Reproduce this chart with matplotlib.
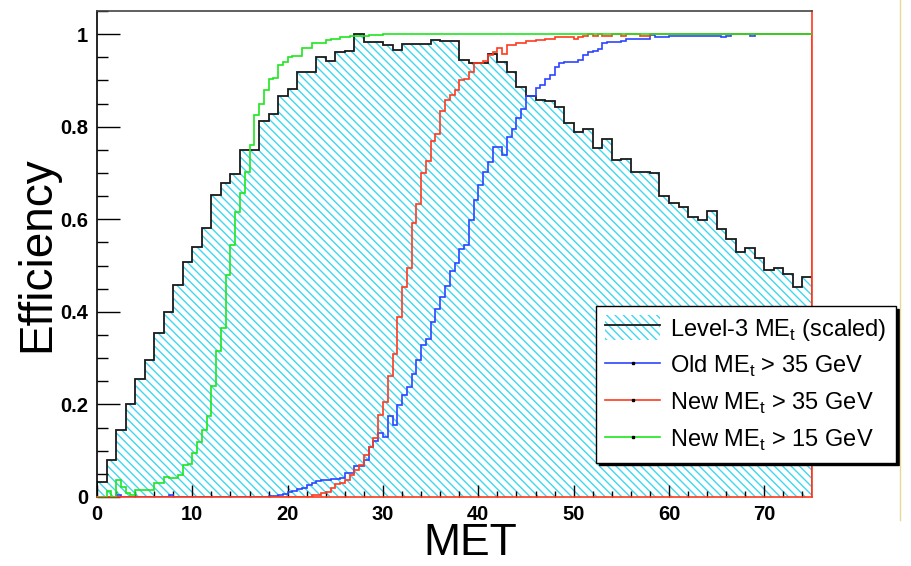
"""
Trigger efficiency versus MET, drawn on top of the scaled Level-3 MEt spectrum.

Rebuilds a ROOT style canvas with matplotlib and writes it to out.png.
"""

import matplotlib

matplotlib.use("Agg")
import matplotlib.pyplot as plt
import numpy as np
from matplotlib.lines import Line2D
from matplotlib.patches import Patch
from matplotlib.ticker import FormatStrFormatter, MultipleLocator

X_MIN, X_MAX = 0.0, 75.0
Y_MAX = 1.05

# Level-3 MEt spectrum, scaled to a peak of 1 (1 GeV bins, 0-75)
LEVEL3_SCALED = [
    0.033, 0.081, 0.145, 0.202, 0.256, 0.296, 0.354, 0.399, 0.458, 0.507,
    0.541, 0.582, 0.652, 0.678, 0.698, 0.749, 0.749, 0.813, 0.827, 0.866,
    0.881, 0.919, 0.919, 0.950, 0.942, 0.962, 0.964, 1.000, 0.983, 0.983,
    0.976, 0.965, 0.978, 0.978, 0.978, 0.988, 0.986, 0.986, 0.945, 0.938,
    0.937, 0.958, 0.940, 0.919, 0.886, 0.866, 0.857, 0.856, 0.843, 0.808,
    0.789, 0.796, 0.753, 0.774, 0.728, 0.731, 0.703, 0.703, 0.699, 0.650,
    0.636, 0.627, 0.604, 0.598, 0.618, 0.579, 0.557, 0.530, 0.537, 0.517,
    0.490, 0.495, 0.481, 0.453, 0.476,
]

# Efficiencies (0.5 GeV bins, 0-75)
OLD_MET35 = [
    0.000, 0.000, 0.000, 0.000, 0.004, 0.000, 0.000, 0.000, 0.000, 0.000,
    0.000, 0.000, 0.000, 0.000, 0.000, 0.004, 0.000, 0.000, 0.000, 0.000,
    0.000, 0.000, 0.000, 0.000, 0.000, 0.000, 0.000, 0.000, 0.000, 0.000,
    0.000, 0.000, 0.000, 0.000, 0.000, 0.000, 0.003, 0.003, 0.005, 0.006,
    0.010, 0.012, 0.018, 0.020, 0.025, 0.030, 0.035, 0.037, 0.037, 0.038,
    0.038, 0.040, 0.051, 0.051, 0.068, 0.068, 0.081, 0.109, 0.120, 0.138,
    0.130, 0.174, 0.155, 0.199, 0.220, 0.238, 0.265, 0.295, 0.328, 0.341,
    0.379, 0.406, 0.433, 0.455, 0.489, 0.506, 0.535, 0.545, 0.598, 0.641,
    0.674, 0.703, 0.724, 0.757, 0.757, 0.739, 0.778, 0.796, 0.818, 0.839,
    0.866, 0.866, 0.883, 0.890, 0.904, 0.911, 0.930, 0.937, 0.940, 0.940,
    0.940, 0.944, 0.955, 0.962, 0.964, 0.967, 0.980, 0.983, 0.983, 0.983,
    0.985, 0.989, 0.989, 0.989, 0.989, 0.990, 0.998, 0.993, 0.993, 0.993,
    0.995, 0.995, 0.997, 0.997, 0.997, 0.997, 0.997, 0.997, 0.997, 0.997,
    0.997, 0.994, 0.997, 1.000, 1.000, 1.000, 1.000, 0.997, 1.000, 1.000,
    1.000, 1.000, 1.000, 1.000, 1.000, 1.000, 1.000, 1.000, 1.000, 1.000,
]

NEW_MET35 = [
    0.000, 0.000, 0.000, 0.000, 0.000, 0.000, 0.000, 0.000, 0.000, 0.000,
    0.000, 0.000, 0.000, 0.000, 0.000, 0.000, 0.000, 0.000, 0.000, 0.000,
    0.000, 0.000, 0.000, 0.000, 0.000, 0.000, 0.000, 0.000, 0.000, 0.000,
    0.000, 0.000, 0.000, 0.000, 0.000, 0.000, 0.000, 0.000, 0.000, 0.000,
    0.000, 0.000, 0.000, 0.000, 0.000, 0.004, 0.004, 0.008, 0.011, 0.019,
    0.028, 0.030, 0.037, 0.048, 0.058, 0.069, 0.090, 0.109, 0.127, 0.178,
    0.206, 0.261, 0.309, 0.388, 0.454, 0.494, 0.591, 0.634, 0.699, 0.726,
    0.770, 0.785, 0.834, 0.857, 0.868, 0.879, 0.901, 0.903, 0.919, 0.937,
    0.937, 0.942, 0.955, 0.962, 0.969, 0.958, 0.976, 0.976, 0.981, 0.981,
    0.985, 0.985, 0.987, 0.987, 0.990, 0.990, 0.994, 0.994, 0.994, 0.994,
    0.989, 0.994, 0.997, 1.000, 0.997, 1.000, 0.997, 0.997, 1.000, 1.000,
    0.997, 1.000, 1.000, 1.000, 0.997, 0.997, 1.000, 1.000, 1.000, 1.000,
    1.000, 1.000, 1.000, 1.000, 1.000, 1.000, 1.000, 1.000, 1.000, 1.000,
    1.000, 1.000, 1.000, 1.000, 1.000, 1.000, 1.000, 1.000, 1.000, 1.000,
    1.000, 1.000, 1.000, 1.000, 1.000, 1.000, 1.000, 1.000, 1.000, 1.000,
]

NEW_MET15 = [
    0.000, 0.000, 0.013, 0.000, 0.037, 0.022, 0.008, 0.005, 0.015, 0.015,
    0.015, 0.015, 0.030, 0.030, 0.044, 0.040, 0.040, 0.048, 0.069, 0.072,
    0.095, 0.118, 0.145, 0.175, 0.240, 0.315, 0.365, 0.479, 0.544, 0.616,
    0.657, 0.703, 0.760, 0.825, 0.850, 0.879, 0.904, 0.906, 0.933, 0.940,
    0.950, 0.952, 0.952, 0.969, 0.969, 0.981, 0.981, 0.981, 0.988, 0.990,
    0.990, 0.993, 0.993, 0.996, 0.996, 0.996, 0.996, 0.998, 0.998, 0.998,
    1.000, 1.000, 1.000, 1.000, 1.000, 1.000, 1.000, 1.000, 1.000, 1.000,
    1.000, 1.000, 1.000, 1.000, 1.000, 1.000, 1.000, 1.000, 1.000, 1.000,
    1.000, 1.000, 1.000, 1.000, 1.000, 1.000, 1.000, 1.000, 1.000, 1.000,
    1.000, 1.000, 1.000, 1.000, 1.000, 1.000, 1.000, 1.000, 1.000, 1.000,
    1.000, 1.000, 1.000, 1.000, 1.000, 1.000, 1.000, 1.000, 1.000, 1.000,
    1.000, 1.000, 1.000, 1.000, 1.000, 1.000, 1.000, 1.000, 1.000, 1.000,
    1.000, 1.000, 1.000, 1.000, 1.000, 1.000, 1.000, 1.000, 1.000, 1.000,
    1.000, 1.000, 1.000, 1.000, 1.000, 1.000, 1.000, 1.000, 1.000, 1.000,
    1.000, 1.000, 1.000, 1.000, 1.000, 1.000, 1.000, 1.000, 1.000, 1.000,
]

LEGEND_LABELS = [
    r"Level-3 ME$_\mathrm{t}$ (scaled)",
    r"Old ME$_\mathrm{t}$ > 35 GeV",
    r"New ME$_\mathrm{t}$ > 35 GeV",
    r"New ME$_\mathrm{t}$ > 15 GeV",
]

# ROOT-ish colours
HATCH_CYAN = "#3cd8f0"
HATCH = "\\\\\\\\"  # four backslashes -> fine diagonal hatching
LINE_BLACK = "#1a1a1a"
BLUE = "#2b44ff"
RED = "#ff3a1e"
GREEN = "#1ee61e"

FONT = "Liberation Sans"


def edges_for(values):
    """Bin edges spanning the x range for a list of bin contents."""
    return np.linspace(X_MIN, X_MAX, len(values) + 1)


def draw_histograms(ax):
    """Hatched spectrum plus the three efficiency step curves."""
    ax.stairs(LEVEL3_SCALED, edges_for(LEVEL3_SCALED), fill=True,
              facecolor="none", edgecolor=HATCH_CYAN, hatch=HATCH,
              linewidth=0, zorder=1)
    ax.stairs(LEVEL3_SCALED, edges_for(LEVEL3_SCALED), baseline=0,
              color=LINE_BLACK, linewidth=1.3, zorder=2)
    ax.stairs(OLD_MET35, edges_for(OLD_MET35), baseline=None,
              color=BLUE, linewidth=1.2, zorder=3)
    ax.stairs(NEW_MET35, edges_for(NEW_MET35), baseline=0,
              color=RED, linewidth=1.2, zorder=4)
    ax.stairs(NEW_MET15, edges_for(NEW_MET15), baseline=None,
              color=GREEN, linewidth=1.2, zorder=5)


def style_axes(ax):
    ax.set_xlim(X_MIN, X_MAX)
    ax.set_ylim(0, Y_MAX)

    ax.xaxis.set_major_locator(MultipleLocator(10))
    ax.xaxis.set_minor_locator(MultipleLocator(2))
    ax.yaxis.set_major_locator(MultipleLocator(0.2))
    ax.yaxis.set_minor_locator(MultipleLocator(0.05))
    ax.yaxis.set_major_formatter(FormatStrFormatter("%g"))

    ax.tick_params(axis="both", which="both", direction="in",
                   top=False, right=False, color="black", width=1.0)
    ax.tick_params(axis="y", which="major", length=16.5, pad=6.5)
    ax.tick_params(axis="y", which="minor", length=8)
    ax.tick_params(axis="x", which="major", length=8.6, pad=6)
    ax.tick_params(axis="x", which="minor", length=4.3)

    for label in ax.get_xticklabels() + ax.get_yticklabels():
        label.set_fontfamily(FONT)
        label.set_fontweight("bold")
        label.set_fontsize(14.5)

    ax.spines["left"].set_color("black")
    ax.spines["top"].set_color("#444444")
    ax.spines["bottom"].set_color(RED)
    ax.spines["right"].set_color(RED)
    for spine in ax.spines.values():
        spine.set_linewidth(1.2)

    ax.set_xlabel("MET", fontsize=32, fontfamily=FONT)
    ax.set_ylabel("Efficiency", fontsize=33, fontfamily=FONT)
    ax.xaxis.set_label_coords(0.522, -0.053)
    ax.yaxis.set_label_coords(-0.053, 0.5)


def add_legend(fig, ax):
    hatch_box = Patch(facecolor="white", edgecolor=HATCH_CYAN, hatch=HATCH,
                      linewidth=0)
    black_line = Line2D([], [], color=LINE_BLACK, linewidth=1.3)
    handles = [(hatch_box, black_line)]
    for color in (BLUE, RED, GREEN):
        handles.append(Line2D([], [], color=color, linewidth=1.2, marker="s",
                              markersize=1.5, markerfacecolor="black",
                              markeredgecolor="black"))

    leg = ax.legend(
        handles, LEGEND_LABELS,
        loc="upper left",
        bbox_to_anchor=(596 / 911, 1 - 306 / 566),
        bbox_transform=fig.transFigure,
        borderaxespad=0,
        prop={"family": FONT, "size": 17},
        handlelength=2.3,
        handleheight=1.2,
        handletextpad=0.45,
        borderpad=0.4,
        labelspacing=0.45,
        fancybox=False,
        shadow={"color": "black", "alpha": 1.0},
        framealpha=1.0,
        edgecolor="black",
    )
    leg.get_frame().set_linewidth(1.0)
    leg.set_zorder(10)
    return leg


def main():
    plt.rcParams["mathtext.fontset"] = "custom"
    plt.rcParams["mathtext.rm"] = FONT
    plt.rcParams["hatch.linewidth"] = 1.0

    fig = plt.figure(figsize=(9.11, 5.66), dpi=100)
    ax = fig.add_axes([97 / 911, 69 / 566, 715 / 911, 486 / 566])

    draw_histograms(ax)
    style_axes(ax)
    add_legend(fig, ax)

    # thin yellow rule at the right edge of the original page
    fig.add_artist(Line2D([900 / 911, 900 / 911], [1.0, 1 - 520 / 566],
                          transform=fig.transFigure, color="#e6da98",
                          linewidth=1.0))

    fig.savefig("out.png", dpi=100)


if __name__ == "__main__":
    main()
